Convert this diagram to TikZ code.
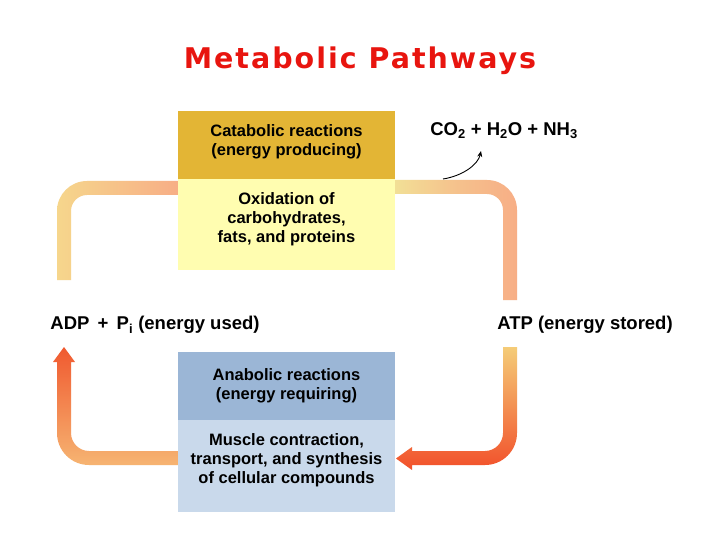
\documentclass[tikz,border=0pt]{standalone}
\usepackage{fontspec}
\setmainfont{Liberation Sans}
\newfontfamily\titlefont[LetterSpace=7]{DejaVu Sans}
\usetikzlibrary{arrows.meta,positioning}
\definecolor{catab}{HTML}{E3B535}
\definecolor{oxid}{HTML}{FFFDB0}
\definecolor{anab}{HTML}{9BB6D6}
\definecolor{muscle}{HTML}{C9D9EB}
\definecolor{titlered}{HTML}{E8150F}
\definecolor{bandpale}{HTML}{F6D68C}
\definecolor{bandyellow}{HTML}{F2DF96}
\definecolor{bandsalmon}{HTML}{F7AE86}
\definecolor{bandorange}{HTML}{F6B472}
\definecolor{bandred}{HTML}{F0592F}

\begin{document}
\begin{tikzpicture}[x=1pt, y=-1pt,
    every node/.style={font=\bfseries\fontsize{16.5}{19}\selectfont},
    box/.style={minimum width=217pt, minimum height=#1, inner sep=0pt, outer sep=0pt},
    boxtext/.style={align=center, yshift=#1},
    chem/.style={font=\bfseries\fontsize{18.5}{22}\selectfont}]
    \fill[white] (0,0) rectangle (720,540);
    \useasboundingbox (0,0) rectangle (720,540);
    % title
    \node[font={\titlefont\bfseries\fontsize{28.5}{32}\selectfont}, text=titlered] (title) at (360,61) {Metabolic Pathways};
    % the four bands of the cycle
    \shade[left color=bandpale, right color=bandsalmon]
      (178,181) -- (87,181) .. controls (70.4,181) and (57,194.4) .. (57,211) -- (57,280)
      -- (71,280) -- (71,211) .. controls (71,202.2) and (78.2,195) .. (87,195) -- (178,195) -- cycle;
    \shade[left color=bandyellow, right color=bandsalmon, middle color=bandsalmon!60!bandyellow]
      (395,180) -- (487,180) .. controls (503.6,180) and (517,193.4) .. (517,210) -- (517,300)
      -- (503,300) -- (503,210) .. controls (503,201.2) and (495.8,194) .. (487,194) -- (395,194) -- cycle;
    \shade[top color=bandred, bottom color=bandorange]
      (64,347) -- (75,362) -- (71,362) -- (71,433) .. controls (71,442.9) and (79.1,451) .. (89,451)
      -- (178,451) -- (178,465) -- (89,465) .. controls (71.3,465) and (57,450.7) .. (57,433)
      -- (57,362) -- (53,362) -- cycle;
    \shade[top color=bandyellow!80!orange, bottom color=bandred!90!red]
      (503,347) -- (517,347) -- (517,433) .. controls (517,450.7) and (502.7,465) .. (485,465)
      -- (412,465) -- (412,470) -- (396,458.5) -- (412,447) -- (412,451) -- (485,451)
      .. controls (494.9,451) and (503,442.9) .. (503,433) -- cycle;
    % boxes
    \node[box=68pt, fill=catab, label={[boxtext=3pt]center:{Catabolic reactions\\(energy producing)}}] (catabolic) at (286.5,145) {};
    \node[box=91pt, fill=oxid, below=0pt of catabolic, label={[boxtext=5pt]center:{Oxidation of\\carbohydrates,\\fats, and proteins}}] (oxidation) {};
    \node[box=68pt, fill=anab, label={[boxtext=0pt]center:{Anabolic reactions\\(energy requiring)}}] (anabolic) at (286.5,386) {};
    \node[box=92pt, fill=muscle, below=0pt of anabolic, label={[boxtext=6pt]center:{Muscle contraction,\\transport, and synthesis\\of cellular compounds}}] (muscle) {};
    % labels
    \node[chem] (adp) at (155,325) {ADP\, + \,P\textsubscript{i} (energy used)};
    \node[chem] (atp) at (585,325) {ATP (energy stored)};
    \node[chem] (products) at (504,131) {CO\textsubscript{2} + H\textsubscript{2}O + NH\textsubscript{3}};
    \coordinate (wastefrom) at (443,179);
    \coordinate (wasteto) at (481,151);
    \draw[line width=0.9pt, -{Stealth[length=6pt, width=5pt]}] (wastefrom) .. controls (462,176) and (478,165) .. (wasteto);
  \end{tikzpicture}
\end{document}
